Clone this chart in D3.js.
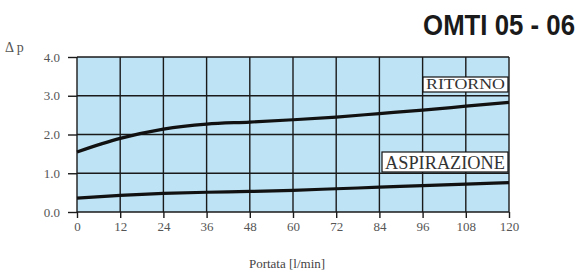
<!DOCTYPE html>
<html lang="it">
<head>
<meta charset="UTF-8">
<title>OMTI 05 - 06</title>
<style>
    body { margin: 0; background: #fff; }
    svg { display: block; }
</style>
</head>
<body>
<svg id="chart"></svg>
<script src="https://cdnjs.cloudflare.com/ajax/libs/d3/7.9.0/d3.min.js"></script>
<script>
    // data
    const portata = [0, 12, 24, 36, 48, 60, 72, 84, 96, 108, 120];
    const ritorno = [1.55, 1.9, 2.14, 2.27, 2.32, 2.38, 2.45, 2.54, 2.63, 2.73, 2.83];
    const aspirazione = [0.36, 0.43, 0.48, 0.51, 0.53, 0.56, 0.6, 0.64, 0.68, 0.72, 0.76];
    const xTicks = [0, 12, 24, 36, 48, 60, 72, 84, 96, 108, 120];
    const yTicks = [0, 1, 2, 3, 4];

    const w = 582, h = 272;
    const svg = d3.select("#chart").attr("width", w).attr("height", h);

    const x = d3.scaleLinear().domain([0, 120]).range([77, 509]);
    const y = d3.scaleLinear().domain([0, 4]).range([212, 57]);

    // plot background
    svg.append("rect")
        .attr("x", x(0)).attr("y", y(4))
        .attr("width", x(120) - x(0)).attr("height", y(0) - y(4))
        .attr("fill", "#bde3f4");

    // grid
    svg.append("g").selectAll("line").data(xTicks).join("line")
        .attr("x1", d => x(d)).attr("x2", d => x(d))
        .attr("y1", y(4)).attr("y2", y(0))
        .attr("stroke", "#1a1a1a").attr("stroke-width", 1.4);
    svg.append("g").selectAll("line").data(yTicks).join("line")
        .attr("x1", x(0)).attr("x2", x(120))
        .attr("y1", d => y(d)).attr("y2", d => y(d))
        .attr("stroke", "#1a1a1a").attr("stroke-width", 1.4);

    // axes
    const xAxis = svg.append("g")
        .attr("transform", `translate(0,${y(0)})`)
        .call(d3.axisBottom(x).tickValues(xTicks).tickSize(6).tickPadding(4));
    const yAxis = svg.append("g")
        .attr("transform", `translate(${x(0)},0)`)
        .call(d3.axisLeft(y).tickValues(yTicks).tickFormat(d3.format(".1f")).tickSize(9).tickPadding(8));
    [xAxis, yAxis].forEach(a => {
        a.attr("font-family", "Liberation Serif, serif").attr("font-size", 13);
        a.select(".domain").remove();
        a.selectAll(".tick line").attr("stroke", "#1a1a1a").attr("stroke-width", 1.4);
        a.selectAll(".tick text")
            .style("font-family", "'Liberation Serif', serif")
            .style("font-size", "13px")
            .attr("fill", "#555");
    });

    // curves
    const line = d3.line().x((d, i) => x(portata[i])).y(d => y(d)).curve(d3.curveMonotoneX);
    [ritorno, aspirazione].forEach(s => {
        svg.append("path").datum(s)
            .attr("d", line)
            .attr("fill", "none")
            .attr("stroke", "#111")
            .attr("stroke-width", 3.2);
    });

    // curve labels
    function boxLabel(txt, x0, x1, yTop, yBot, size) {
        svg.append("rect")
            .attr("x", x0).attr("y", yTop)
            .attr("width", x1 - x0).attr("height", yBot - yTop)
            .attr("fill", "#fff").attr("stroke", "#111").attr("stroke-width", 1.2);
        svg.append("text")
            .attr("x", (x0 + x1) / 2).attr("y", yBot - 3)
            .attr("text-anchor", "middle")
            .attr("font-family", "Liberation Serif, serif")
            .attr("font-size", size)
            .attr("fill", "#333")
            .attr("textLength", x1 - x0 - 6)
            .attr("lengthAdjust", "spacingAndGlyphs")
            .text(txt);
    }
    boxLabel("RITORNO", 423, 508, 77, 92, 15);
    boxLabel("ASPIRAZIONE", 382, 508, 152, 172, 18);

    // titles: condensed bold look via horizontal scaling
    svg.append("text")
        .attr("transform", "translate(575,35) scale(0.86,1)")
        .attr("text-anchor", "end")
        .attr("font-family", "Liberation Sans, Arial, sans-serif")
        .attr("font-weight", "bold")
        .attr("font-size", 30)
        .attr("fill", "#1a1a1a")
        .text("OMTI 05 - 06");

    svg.append("text")
        .attr("x", 5).attr("y", 52)
        .attr("font-family", "Liberation Serif, serif")
        .attr("font-size", 14)
        .attr("fill", "#555")
        .text("Δ p");

    svg.append("text")
        .attr("x", 287).attr("y", 268)
        .attr("text-anchor", "middle")
        .attr("font-family", "Liberation Serif, serif")
        .attr("font-size", 13)
        .attr("fill", "#444")
        .text("Portata [l/min]");
</script>
</body>
</html>
